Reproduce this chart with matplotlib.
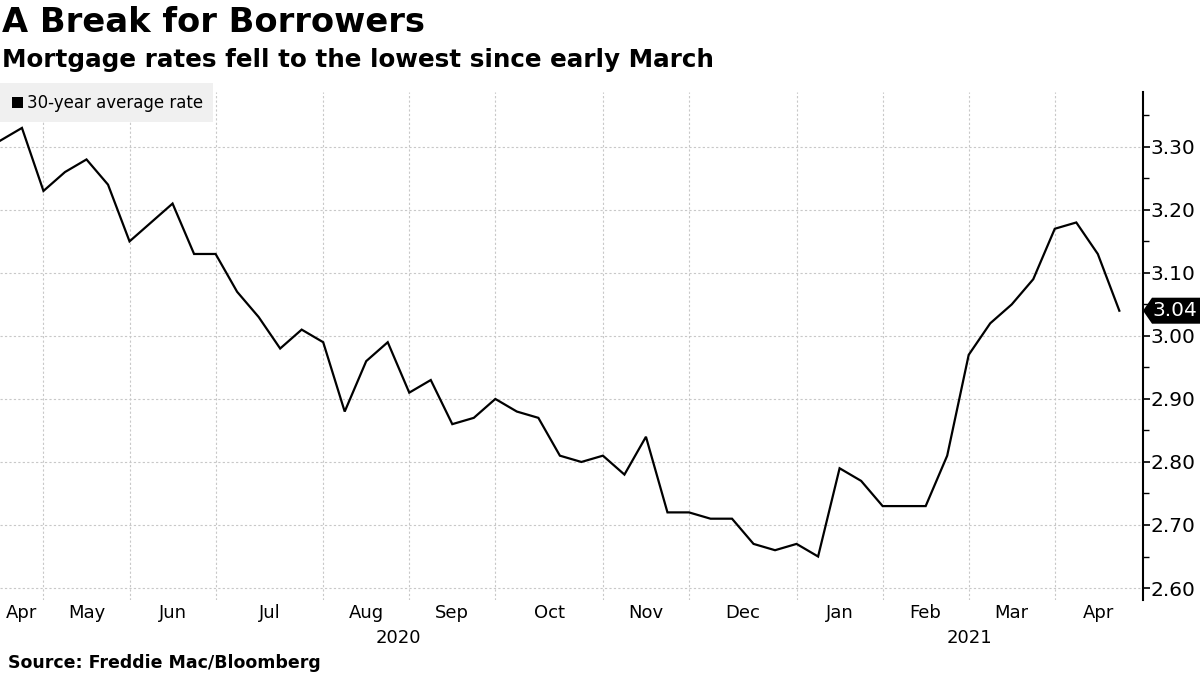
import matplotlib
matplotlib.use("Agg")
import matplotlib.pyplot as plt
import numpy as np
import pandas as pd
from matplotlib.patches import Rectangle, Polygon
import matplotlib.transforms as mtransforms

# ---------------- data ----------------
dates = [
    "2020-04-16", "2020-04-23", "2020-04-30",
    "2020-05-07", "2020-05-14", "2020-05-21", "2020-05-28",
    "2020-06-04", "2020-06-11", "2020-06-18", "2020-06-25",
    "2020-07-02", "2020-07-09", "2020-07-16", "2020-07-23", "2020-07-30",
    "2020-08-06", "2020-08-13", "2020-08-20", "2020-08-27",
    "2020-09-03", "2020-09-10", "2020-09-17", "2020-09-24",
    "2020-10-01", "2020-10-08", "2020-10-15", "2020-10-22", "2020-10-29",
    "2020-11-05", "2020-11-12", "2020-11-19", "2020-11-25",
    "2020-12-03", "2020-12-10", "2020-12-17", "2020-12-23", "2020-12-30",
    "2021-01-07", "2021-01-14", "2021-01-21", "2021-01-28",
    "2021-02-04", "2021-02-11", "2021-02-18", "2021-02-25",
    "2021-03-04", "2021-03-11", "2021-03-18", "2021-03-25",
    "2021-04-01", "2021-04-08", "2021-04-15",
]
rates = [
    3.31, 3.33, 3.23,
    3.26, 3.28, 3.24, 3.15,
    3.18, 3.21, 3.13, 3.13,
    3.07, 3.03, 2.98, 3.01, 2.99,
    2.88, 2.96, 2.99, 2.91,
    2.93, 2.86, 2.87, 2.90,
    2.88, 2.87, 2.81, 2.80, 2.81,
    2.78, 2.84, 2.72, 2.72,
    2.71, 2.71, 2.67, 2.66, 2.67,
    2.65, 2.79, 2.77, 2.73,
    2.73, 2.73, 2.81, 2.97,
    3.02, 3.05, 3.09, 3.17,
    3.18, 3.13, 3.04,
]
y_ticks = [2.60, 2.70, 2.80, 2.90, 3.00, 3.10, 3.20, 3.30]
title = "A Break for Borrowers"
subtitle = "Mortgage rates fell to the lowest since early March"
source = "Source: Freddie Mac/Bloomberg"
series_name = "30-year average rate"

# ---------------- figure ----------------
plt.rcParams['font.family'] = ['DejaVu Sans']
W, H = 1200, 675
fig = plt.figure(figsize=(12, 6.75), dpi=100)
fig.patch.set_facecolor("white")

ax_l, ax_r, ax_t, ax_b = 0, 1143, 92, 600
ax = fig.add_axes([ax_l / W, 1 - ax_b / H, (ax_r - ax_l) / W, (ax_b - ax_t) / H])

x = np.arange(len(rates))
ax.plot(x, rates, color="black", lw=1.6, zorder=3, solid_joinstyle="miter")

x0, x1 = -0.02, len(rates) - 1 + 1.1
ax.set_xlim(x0, x1)
ax.set_ylim(2.581, 3.387)

# month boundaries (last point of each month)
d = pd.to_datetime(dates)
per = d.to_period("M")
bounds = [i for i in range(len(d) - 1) if per[i] != per[i + 1]]

ax.set_xticks(bounds)
ax.set_xticklabels([])
ax.tick_params(axis="x", length=0)

grid_kw = dict(color="#c8c8c8", linestyle=(0, (2, 2)), lw=0.8)
ax.grid(axis="x", **grid_kw)
ax.grid(axis="y", which="major", **grid_kw)

# y axis on right
ax.yaxis.tick_right()
ax.set_yticks(y_ticks)
ax.set_yticklabels([f"{v:.2f}" for v in y_ticks])
ax.set_yticks(np.arange(2.65, 3.40, 0.10), minor=True)
ax.tick_params(axis="y", which="major", length=5, width=1.2, pad=0.5,
               labelsize=14.5, direction="out", colors="black")
ax.tick_params(axis="y", which="minor", length=4, width=1.0, direction="out")
for s in ["left", "top", "bottom"]:
    ax.spines[s].set_visible(False)
ax.spines["right"].set_linewidth(1.5)

# month labels
edges = [x0] + bounds + [x1]
blend = mtransforms.blended_transform_factory(ax.transData, ax.transAxes)
ax_h_px = ax_b - ax_t
for k in range(len(edges) - 1):
    first_idx = 0 if k == 0 else bounds[k - 1] + 1
    lab = d[first_idx].strftime("%b")
    xc = (edges[k] + edges[k + 1]) / 2
    ax.text(xc, -(613 - ax_b) / ax_h_px, lab, transform=blend, ha="center",
            va="center", fontsize=13, clip_on=False)

# year labels
ybounds = [i for i in range(len(d) - 1) if d[i].year != d[i + 1].year]
yedges = [x0] + ybounds + [x1]
for k in range(len(yedges) - 1):
    first_idx = 0 if k == 0 else ybounds[k - 1] + 1
    xc = (yedges[k] + yedges[k + 1]) / 2
    ax.text(xc, -(638 - ax_b) / ax_h_px, str(d[first_idx].year), transform=blend,
            ha="center", va="center", fontsize=13, clip_on=False)

# legend box
fig.add_artist(Rectangle((0, 1 - 122 / H), 213 / W, 39 / H, transform=fig.transFigure,
                         facecolor="#f0f0f0", edgecolor="none", zorder=5))
fig.add_artist(Rectangle((12 / W, 1 - 108 / H), 11 / W, 11 / H, transform=fig.transFigure,
                         facecolor="black", edgecolor="none", zorder=6))
fig.text(27 / W, 1 - 103 / H, series_name, fontsize=12, va="center", ha="left", zorder=6)

# titles
fig.text(2 / W, 1 - 22 / H, title, fontsize=24.3, fontweight="bold", va="center", ha="left")
fig.text(2 / W, 1 - 60 / H, subtitle, fontsize=17.7, fontweight="bold", va="center", ha="left")
fig.text(8 / W, 1 - 663 / H, source, fontsize=12.5, fontweight="bold", va="center", ha="left")

# last value tag
fig.canvas.draw()
tip_x = ax.transAxes.transform((1, 0))[0]
tip_y = ax.transData.transform((0, rates[-1]))[1]
hh = 13
poly = Polygon([(tip_x, tip_y), (tip_x + 9, tip_y + hh), (W, tip_y + hh),
                (W, tip_y - hh), (tip_x + 9, tip_y - hh)], closed=True,
               transform=mtransforms.IdentityTransform(), facecolor="black",
               edgecolor="none", zorder=10)
fig.add_artist(poly)
fig.text((tip_x + 9) / W, tip_y / H, f"{rates[-1]:.2f}", color="white",
         fontsize=14.5, va="center", ha="left", zorder=11)

fig.savefig("out.png", dpi=100)
